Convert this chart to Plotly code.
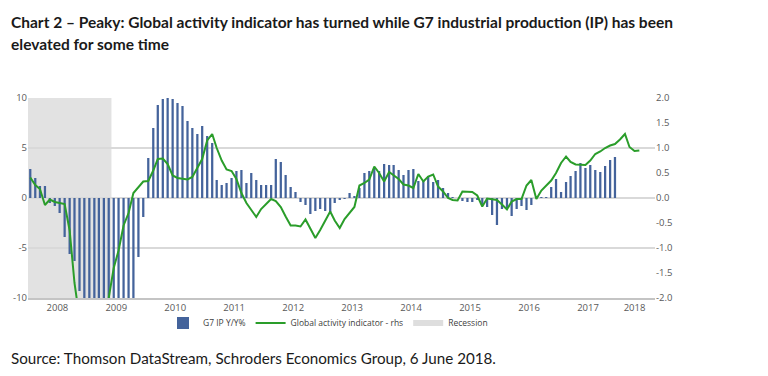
import pandas as pd
import plotly.graph_objects as go

# ---------------- data ----------------
# G7 industrial production, % y/y, monthly Jan 2008 - Dec 2017 (left axis)
ip_values = [
    2.9, 2.0, 1.2, 1.2, -0.5, -0.8, -1.5, -3.9, -5.6, -6.3, -9.3, -10.8,
    -12.5, -14.6, -16.2, -17.5, -18.4, -18.0, -16.9, -15.2, -13.4, -11.2, -5.9, -1.9,
    4.0, 7.0, 9.3, 9.9, 10.0, 9.9, 9.5, 9.2, 7.7, 7.0, 6.4, 7.2,
    6.2, 5.5, 1.8, 1.3, 1.5, 2.0, 2.7, 2.8, 1.5, 2.5, 1.8, 1.3,
    1.3, 1.3, 3.9, 3.6, 2.3, 1.1, 0.6, -0.4, -0.7, -1.6, -1.3, -1.1,
    -1.3, -1.4, -0.5, -0.2, -0.1, 0.5, 0.2, 1.0, 2.5, 2.7, 3.0, 2.7,
    3.4, 3.3, 3.3, 2.8, 2.3, 2.8, 2.9, 1.7, 1.7, 2.2, 1.6, 1.8,
    1.0, 0.5, 0.1, 0.0, -0.3, -0.4, -0.4, -0.2, -0.7, -0.9, -1.7, -2.7,
    -1.1, -1.0, -1.8, -1.1, -0.8, -1.2, -0.7, 0.0, 0.1, 0.1, 1.1, 1.9,
    0.6, 1.6, 2.2, 2.7, 3.5, 3.0, 3.3, 2.8, 2.6, 3.2, 3.8, 4.1,
]

# Global activity indicator, monthly Jan 2008 - May 2018 (right axis)
gai_values = [
    0.41, 0.26, 0.18, -0.14, -0.03, -0.08, -0.10, -0.12, -0.65, -1.70, -2.40, -2.80,
    -3.00, -2.90, -2.70, -2.35, -2.00, -1.40, -1.05, -0.55, -0.30, 0.10, 0.22, 0.33,
    0.34, 0.55, 0.78, 0.79, 0.68, 0.45, 0.40, 0.38, 0.37, 0.42, 0.60, 0.78,
    1.15, 1.28, 1.00, 0.75, 0.57, 0.54, 0.38, 0.10, -0.10, -0.25, -0.38, -0.22,
    -0.13, -0.02, -0.06, -0.18, -0.37, -0.55, -0.55, -0.57, -0.43, -0.60, -0.80, -0.64,
    -0.45, -0.27, -0.45, -0.60, -0.42, -0.30, -0.18, 0.25, 0.30, 0.37, 0.63, 0.50,
    0.33, 0.52, 0.46, 0.38, 0.27, 0.25, 0.20, 0.48, 0.33, 0.43, 0.47, 0.23,
    0.13, 0.00, -0.04, -0.05, 0.13, 0.12, 0.12, 0.05, -0.17, -0.01, -0.02, -0.04,
    -0.13, -0.23, -0.07, -0.02, -0.02, 0.25, 0.36, -0.02, 0.15, 0.24, 0.35, 0.50,
    0.70, 0.83, 0.72, 0.67, 0.66, 0.66, 0.75, 0.88, 0.93, 1.00, 1.05, 1.08,
    1.17, 1.28, 1.02, 0.94, 0.95,
]

series_start = "2008-01-01"
recession_start = "2008-01-01"
recession_end = "2009-06-01"

year_tick_dates = ["2008-07-01", "2009-07-01", "2010-07-01", "2011-07-01", "2012-07-01",
                   "2013-07-01", "2014-07-01", "2015-07-01", "2016-07-01", "2017-07-01",
                   "2018-04-15"]
year_tick_labels = ["2008", "2009", "2010", "2011", "2012", "2013", "2014", "2015",
                    "2016", "2017", "2018"]

left_ticks = [-10, -5, 0, 5, 10]
left_labels = ["-10", "-5", "0", "5", "10"]
right_ticks = [-2.0, -1.5, -1.0, -0.5, 0.0, 0.5, 1.0, 1.5, 2.0]
right_labels = ["-2.0", "-1.5", "-1.0", "-0.5", "0.0", "0.5", "1.0", "1.5", "2.0"]

title_line1 = "Chart 2 \u2013 Peaky: Global activity indicator has turned while G7 industrial production (IP) has been"
title_line2 = "elevated for some time"
source_text = "Source: Thomson DataStream, Schroders Economics Group, 6 June 2018."

# ---------------- figure ----------------
bar_dates = pd.date_range(series_start, periods=len(ip_values), freq="MS") + pd.Timedelta(days=14)
line_dates = pd.date_range(series_start, periods=len(gai_values), freq="MS") + pd.Timedelta(days=14)

# the page body has an 8px margin, so the figure is 8px smaller than the window
OFF = 8
W, H = 768 - OFF, 376 - OFF
L, R, T, B = 20, 113, 90, 78
pw, ph = W - L - R, H - T - B


def px(xpage):
    return (xpage - OFF - L) / pw


def py(ypage):
    return (H - B - (ypage - OFF)) / ph


tick_font = dict(family="Open Sans", size=9.5, color="#595959")

fig = go.Figure()
fig.add_trace(go.Bar(
    x=bar_dates, y=ip_values, name="G7 IP Y/Y%", yaxis="y",
    marker=dict(color="#44639b", line=dict(width=0)),
))
fig.add_trace(go.Scatter(
    x=line_dates, y=gai_values, name="Global activity indicator - rhs", yaxis="y2",
    mode="lines", line=dict(color="#2a9d2a", width=2),
))
fig.add_trace(go.Scatter(
    x=[None], y=[None], name="Recession", yaxis="y2",
    mode="lines", line=dict(color="#dedede", width=6),
))

fig.add_shape(type="rect", xref="x", yref="paper", x0=recession_start, x1=recession_end,
              y0=0, y1=1, fillcolor="#e2e2e2", line=dict(width=0), layer="below")

fig.add_annotation(x=px(9), y=py(11), xref="paper", yref="paper", xanchor="left", yanchor="top",
                   text="<b>" + title_line1 + "</b>", showarrow=False,
                   font=dict(family="Lato", size=15.5, color="#1a1a1a"))
fig.add_annotation(x=px(9), y=py(33), xref="paper", yref="paper", xanchor="left", yanchor="top",
                   text="<b>" + title_line2 + "</b>", showarrow=False,
                   font=dict(family="Lato", size=15.5, color="#1a1a1a"))
fig.add_annotation(x=px(9), y=py(358), xref="paper", yref="paper", xanchor="left", yanchor="middle",
                   text=source_text, showarrow=False,
                   font=dict(family="Lato", size=15.2, color="#1a1a1a"))

fig.update_layout(
    width=W, height=H,
    margin=dict(l=L, r=R, t=T, b=B, pad=0, autoexpand=False),
    paper_bgcolor="white", plot_bgcolor="white",
    bargap=0.5,
    showlegend=True,
    legend=dict(orientation="h", x=px(328), xanchor="center", y=py(323), yanchor="middle",
                font=dict(family="Open Sans", size=8.5, color="#404040"),
                bgcolor="rgba(0,0,0,0)", itemwidth=30, tracegroupgap=0),
    xaxis=dict(type="date", range=["2008-01-01", "2018-08-20"],
               tickvals=year_tick_dates, ticktext=year_tick_labels,
               showgrid=False, zeroline=False, showline=True, linecolor="#c4c4c4", linewidth=2,
               ticks="", tickfont=tick_font, automargin=False),
    yaxis=dict(range=[-10, 10], tickvals=left_ticks, ticktext=left_labels,
               showgrid=True, gridcolor="#d9d9d9", gridwidth=1.5, zeroline=False,
               showline=False, ticks="", tickfont=tick_font, automargin=False),
    yaxis2=dict(range=[-2, 2], overlaying="y", side="right",
                tickvals=right_ticks, ticktext=right_labels,
                showgrid=False, zeroline=False, showline=False, ticks="", tickfont=tick_font,
                automargin=False),
)

fig.write_html("out.html")
